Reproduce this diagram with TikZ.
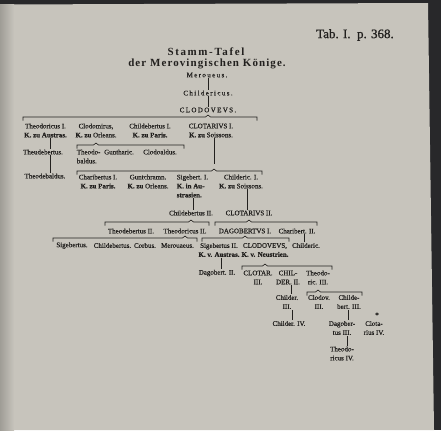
\documentclass[tikz,border=0pt]{standalone}
\usepackage{fontspec}
\setmainfont{Liberation Serif}
\usetikzlibrary{calc}

\definecolor{papier}{RGB}{199,196,188}
\definecolor{tinte}{RGB}{34,32,30}
\definecolor{rand}{RGB}{40,40,42}

\newcommand{\frk}[1]{\textbf{#1}}
% bracket under a parent: parent node, left x, right x, y
\newcommand{\klammer}[4]{%
  \draw[linie] (#2,#4+3.5) -- (#2,#4)
    -- ($(#1.south |- 0,#4)+(-2.5,0)$) -- ($(#1.south |- 0,#4)+(0,-2)$)
    -- ($(#1.south |- 0,#4)+(2.5,0)$) -- (#3,#4) -- (#3,#4+3.5);}

\tikzset{
  koenig/.style={font=\fontsize{7}{9}\selectfont\addfontfeatures{FakeBold=0.6}, text=tinte, inner sep=0.6bp, align=center},
  sperr/.style={koenig, font=\fontsize{7}{9}\selectfont\addfontfeatures{LetterSpace=20,FakeBold=0.6}},
  titel/.style={font=\fontsize{11}{12}\selectfont\bfseries, text=tinte, inner sep=0pt},
  linie/.style={draw=tinte, line width=0.6bp},
}

\begin{document}
\begin{tikzpicture}[x=1bp, y=-1bp]
\useasboundingbox (0,0) rectangle (441,430);

% page
\fill[rand] (0,0) rectangle (441,430);
\fill[papier] (0,4.5) -- (428,3) -- (434,430) -- (0,430) -- cycle;
\shade[left color=papier!80!black, right color=papier] (0,4.5) rectangle (14,430);

% heading
\node[titel, font=\fontsize{13}{14}\selectfont\addfontfeatures{FakeBold=1}] (tab) at (355,35) {Tab. I.\ \ p. 368.};
\node[titel, font=\fontsize{11}{12}\selectfont\bfseries\addfontfeatures{LetterSpace=15}] (tafel) at (206,52) {Stamm-Tafel};
\node[titel, font=\fontsize{11}{12}\selectfont\bfseries\addfontfeatures{LetterSpace=10}] (koenige) at (207,64) {der Merovingischen Könige.};

% first generations
\node[sperr] (mer) at (207,75) {Meroueus.};
\node[sperr] (chi) at (208,93) {Childericus.};
\node[sperr] (clo) at (208,110) {CLODOVEVS.};
\draw[linie] (mer.south -| 208,0) -- (chi.north -| 208,0);
\draw[linie] (chi.south -| 208,0) -- (clo.north -| 208,0);

% sons of Clodoveus
\klammer{clo}{23}{257}{117}
\node[koenig] (th1) at (45.5,130.5) {Theodoricus I.\\\frk{K. zu Austras.}};
\node[koenig] (cdm) at (96,130.5) {Clodomirus,\\\frk{K. zu} Orleans.};
\node[koenig] (cb1) at (150,130.5) {Childebertus I.\\\frk{K. zu Paris.}};
\node[koenig] (cl1) at (211,130.5) {CLOTARIVS I.\\\frk{K. zu} Soissons.};

\node[koenig] (thb) at (43,152) {Theudebertus.};
\node[koenig] (thd) at (45,176) {Theodebaldus.};
\draw[linie] (th1.south -| 50,0) -- (thb.north -| 50,0);
\draw[linie] (thb.south -| 50,0) -- (thd.north -| 50,0);

\klammer{cdm}{77}{184}{145}
\node[koenig, align=left, anchor=west] (tdv) at (76,156.5) {Theodo-\\baldus.};
\node[koenig] (gun) at (119,152) {Guntharic.};
\node[koenig] (cla) at (160,152) {Clodoaldus.};

% sons of Clotarius I
\coordinate (cl1s) at (cl1.south -| 214,0);
\draw[linie] (cl1s) -- ($(cl1s)+(0,26)$);
\klammer{cl1s}{77}{262}{171}
\node[koenig] (ch1) at (98,181.5) {Charibertus I.\\\frk{K. zu Paris.}};
\node[koenig] (gut) at (148,181.5) {Guntchramn.\\\frk{K. zu} Orleans.};
\node[koenig, align=left, anchor=west] (sg1) at (176,186) {Sigebert. I.\\\frk{K. in Au-}\\\frk{strasien.}};
\node[koenig] (cd1) at (241,181.5) {Childeric. I.\\\frk{K. zu} Soissons.};

\node[koenig] (cb2) at (191,213) {Childebertus II.};
\node[koenig] (cl2) at (249,213) {CLOTARIVS II.};
\draw[linie] (sg1.south -| 193,0) -- (cb2.north -| 193,0);
\draw[linie] (cd1.south -| 247,0) -- (cl2.north -| 247,0);

\klammer{cb2}{105}{209}{222}
\node[koenig] (tb2) at (131,231) {Theodebertus II.};
\node[koenig] (td2) at (185,231) {Theodoricus II.};
\klammer{cl2}{215}{317}{222}
\node[koenig] (dg1) at (245,231) {DAGOBERTVS I.};
\node[koenig] (chb2) at (297,231) {Charibert. II.};

% sons of Theodoricus II
\klammer{td2}{53}{197}{238}
\node[koenig] (sgb) at (72,245.5) {Sigebertus.};
\node[koenig] (cbt) at (112.5,245.5) {Childebertus.};
\node[koenig] (cor) at (145,245.5) {Corbus.};
\node[koenig] (mrv) at (177.5,245.5) {Merouaeus.};

% sons of Dagobertus I
\klammer{dg1}{202}{289}{238}
\node[koenig] (sg2) at (219,250) {Sigebertus II.\\\frk{K. v. Austras.}};
\node[koenig] (cv2) at (265,250) {CLODOVEVS,\\\frk{K. v. Neustrien.}};
\node[koenig] (cdr) at (306,245.5) {Childeric.};
\draw[linie] (chb2.south -| 304,0) -- (cdr.north -| 304,0);

\node[koenig] (dgb2) at (217,273) {Dagobert. II.};
\draw[linie] (sg2.south -| 221,0) -- (dgb2.north -| 221,0);

% sons of Clodoveus II
\klammer{cv2}{242}{332}{266}
\node[koenig] (ct3) at (258,277.5) {CLOTAR.\\III.};
\node[koenig] (chl2) at (288,277.5) {CHIL-\\DER. II.};
\node[koenig] (tdr3) at (318,277.5) {Theodo-\\ric. III.};

\node[koenig] (cld3) at (287,302) {Childer.\\III.};
\draw[linie] (chl2.south -| 291,0) -- (cld3.north -| 291,0);
\klammer{tdr3}{307}{362}{292}
\node[koenig] (clv3) at (319,302) {Clodov.\\III.};
\node[koenig] (cbt3) at (349,302) {Childe-\\bert. III.};

% last generations
\node[koenig] (cd4) at (289,323.5) {Childer. IV.};
\draw[linie] (cld3.south -| 292,0) -- (cd4.north -| 292,0);
\node[koenig] (dg3) at (342,328) {Dagober-\\tus III.};
\draw[linie] (cbt3.south -| 348,0) -- (dg3.north -| 348,0);
\node[koenig] (stern) at (377,315) {*};
\node[koenig] (ctr4) at (374,328) {Clota-\\rius IV.};
\node[koenig] (tdc4) at (342,353.5) {Theodo-\\ricus IV.};
\draw[linie] (dg3.south -| 347,0) -- (tdc4.north -| 347,0);

\end{tikzpicture}
\end{document}
